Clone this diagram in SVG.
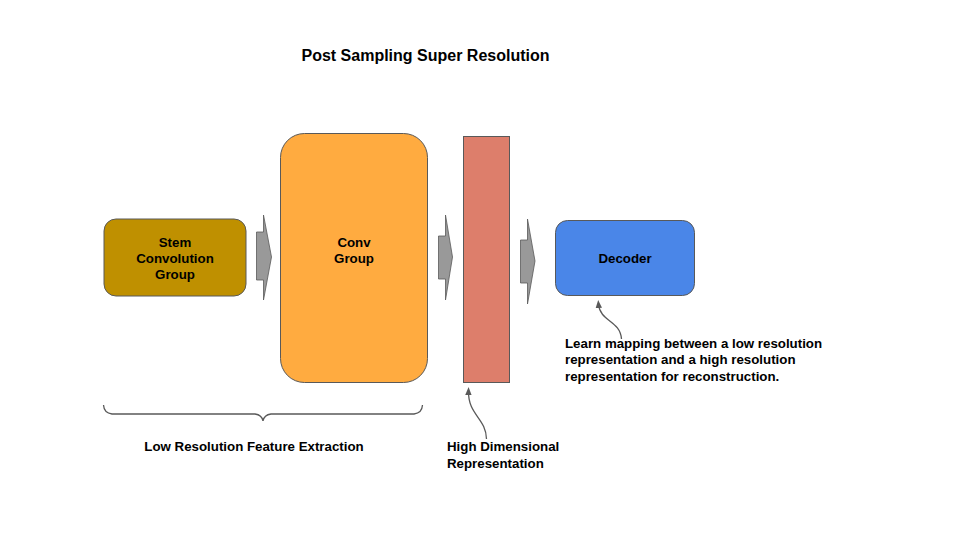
<svg xmlns="http://www.w3.org/2000/svg" width="960" height="540" viewBox="0 0 960 540">
<defs>
<style>
text{font-family:"Liberation Sans",Arial,sans-serif;font-weight:bold;fill:#000}
.lbl{font-size:13.3px}
.ctr{text-anchor:middle}
.blk{stroke:#595959;stroke-width:1}
.conn{fill:none;stroke:#595959;stroke-width:1.3}
.big{fill:#999999;stroke:#595959;stroke-width:0.8}
</style>
<marker id="ah" viewBox="0 0 10 10" refX="5" refY="5" markerWidth="8" markerHeight="8" orient="auto-start-reverse" markerUnits="userSpaceOnUse">
<path d="M0,1 L10,5 L0,9 Z" fill="#595959"/>
</marker>
</defs>
<rect width="960" height="540" fill="#fff"/>
<text x="425.5" y="61" class="ctr" style="font-size:16px">Post Sampling Super Resolution</text>

<g id="stem">
<rect x="104" y="219" width="142" height="77" rx="12" fill="#BF9000" class="blk"/>
<text class="lbl ctr" x="175" y="247">Stem</text>
<text class="lbl ctr" x="175" y="263">Convolution</text>
<text class="lbl ctr" x="175" y="279">Group</text>
</g>
<g id="conv">
<rect x="280.5" y="133.5" width="147" height="249" rx="24" fill="#FFAB40" class="blk"/>
<text class="lbl ctr" x="354" y="247">Conv</text>
<text class="lbl ctr" x="354" y="263">Group</text>
</g>
<g id="hidim">
<rect x="463.5" y="136.5" width="46" height="246" fill="#DD7E6B" class="blk"/>
</g>
<g id="decoder">
<rect x="555.5" y="220.5" width="139" height="75" rx="12" fill="#4A86E8" class="blk"/>
<text class="lbl ctr" x="625" y="263">Decoder</text>
</g>

<g id="connectors">
<path class="big" d="M256.5,232 L263.5,232 L263.5,215 L271.5,257 L263.5,300 L263.5,280 L256.5,280 Z"/>
<path class="big" d="M438.5,236 L445.5,236 L445.5,215 L452.5,257 L445.5,300 L445.5,279 L438.5,279 Z"/>
<path class="big" d="M520.5,240 L527.5,240 L527.5,219 L535,261 L527.5,304 L527.5,283 L520.5,283 Z"/>
<path class="conn" d="M103.5,405 Q104,413 112,414 L255,414 Q262,415 263,421 Q264,415 271,414 L414,414 Q422,413 422.5,405"/>
<path class="conn" marker-end="url(#ah)" d="M621.5,339 C620,320 600,322 598.5,304"/>
<path class="conn" marker-end="url(#ah)" d="M486.5,439 C486,418 468,415 468.5,391"/>
</g>

<g id="labels">
<text class="lbl ctr" x="254" y="451">Low Resolution Feature Extraction</text>
<text class="lbl" x="447" y="451">High Dimensional</text>
<text class="lbl" x="447" y="468">Representation</text>
<text class="lbl" x="565" y="348">Learn mapping between a low resolution</text>
<text class="lbl" x="565" y="364">representation and a high resolution</text>
<text class="lbl" x="565" y="381">representation for reconstruction.</text>
</g>
</svg>
